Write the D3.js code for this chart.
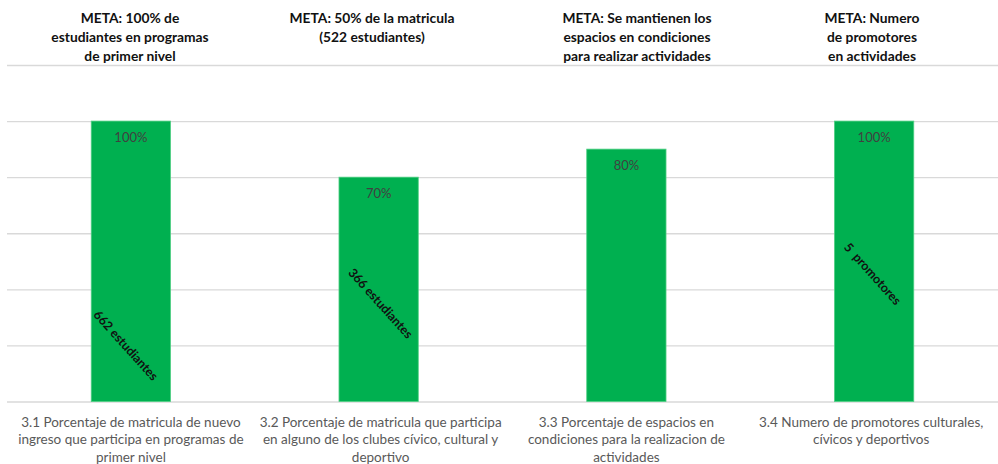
<!DOCTYPE html>
<html>
<head>
<meta charset="utf-8">
<script src="https://cdn.jsdelivr.net/npm/d3@7"></script>
<style>
  html, body { margin: 0; padding: 0; background: #ffffff; }
  svg { display: block; }
  text { font-family: Lato, "Open Sans", sans-serif; }
</style>
</head>
<body>
<svg id="chart" width="998" height="464"></svg>
<script>
// ---- data ----
const categories = ["3.1", "3.2", "3.3", "3.4"];
const barHeights = [100, 80, 90, 100];
const valueLabels = ["100%", "70%", "80%", "100%"];
const innerLabels = ["662 estudiantes", "366 estudiantes", "", "5  promotores"];
const metaTitles = [
  ["META: 100% de", "estudiantes en programas", "de primer nivel"],
  ["META: 50% de la matricula", "(522 estudiantes)"],
  ["META: Se mantienen los", "espacios en condiciones", "para realizar actividades"],
  ["META: Numero", "de promotores", "en actividades"]
];
const categoryLabels = [
  ["3.1 Porcentaje de matricula de nuevo", "ingreso que participa en programas de", "primer nivel"],
  ["3.2 Porcentaje de matricula que participa", "en alguno de los clubes cívico, cultural y", "deportivo"],
  ["3.3 Porcentaje de espacios en", "condiciones para la realizacion de", "actividades"],
  ["3.4 Numero de promotores culturales,", "cívicos y deportivos"]
];
const gridTicks = [0, 20, 40, 60, 80, 100, 120];

// ---- drawing ----
(function () {
const svg = d3.select("#chart");
const plotLeft = 7, plotRight = 998, plotTop = 65, plotBottom = 401.5;

const x = d3.scaleBand().domain(categories).range([plotLeft, plotRight])
  .paddingInner(0.68).paddingOuter(0.34);
const y = d3.scaleLinear().domain([0, 120]).range([plotBottom, plotTop]);

// gridlines
const grid = svg.append("g").attr("transform", `translate(${plotLeft},0)`)
  .call(d3.axisLeft(y).tickValues(gridTicks).tickSize(-(plotRight - plotLeft)).tickFormat(""));
grid.select(".domain").remove();
grid.selectAll(".tick line").attr("stroke", "#d9d9d9").attr("stroke-width", 1.4);

// bars
svg.append("g").selectAll("rect").data(categories).join("rect")
  .attr("x", d => x(d))
  .attr("y", (d, i) => y(barHeights[i]))
  .attr("width", x.bandwidth())
  .attr("height", (d, i) => y(0) - y(barHeights[i]))
  .attr("fill", "#00b050")
  .attr("stroke", "#4fcf83").attr("stroke-width", 0.8);

// value labels
svg.append("g").selectAll("text").data(categories).join("text")
  .attr("x", d => x(d) + x.bandwidth() / 2)
  .attr("y", (d, i) => y(barHeights[i]) + 20.5)
  .attr("text-anchor", "middle")
  .attr("font-size", 13)
  .attr("fill", "#404040")
  .text((d, i) => valueLabels[i]);

// rotated inner labels
const innerAt = [20, 35, 0, 45.5];
const innerDx = [-5, 2, 0, -1.5];
svg.append("g").selectAll("text").data(categories).join("text")
  .attr("transform", (d, i) => `translate(${x(d) + x.bandwidth() / 2 + innerDx[i]},${y(innerAt[i])}) rotate(48)`)
  .attr("text-anchor", "middle")
  .attr("dy", "0.35em")
  .attr("font-size", 12.5)
  .attr("font-weight", "bold")
  .attr("fill", "#111")
  .attr("xml:space", "preserve")
  .style("white-space", "pre")
  .text((d, i) => innerLabels[i]);

// meta titles
const titleCx = [130, 372, 637, 872];
metaTitles.forEach((lines, i) => {
  const t = svg.append("text")
    .attr("text-anchor", "middle")
    .attr("font-size", 13.8)
    .attr("font-weight", "bold")
    .attr("fill", "#111");
  lines.forEach((ln, j) => {
    t.append("tspan").attr("x", titleCx[i]).attr("y", 22.5 + j * 19).text(ln);
  });
});

// category labels
const catDx = [0, 2, 0, -3];
categories.forEach((c, i) => {
  const t = svg.append("text")
    .attr("text-anchor", "middle")
    .attr("font-size", 13.5)
    .attr("fill", "#595959");
  categoryLabels[i].forEach((ln, j) => {
    t.append("tspan").attr("x", x(c) + x.bandwidth() / 2 + catDx[i]).attr("y", 426.5 + j * 17.5).text(ln);
  });
});
})();
</script>
</body>
</html>
